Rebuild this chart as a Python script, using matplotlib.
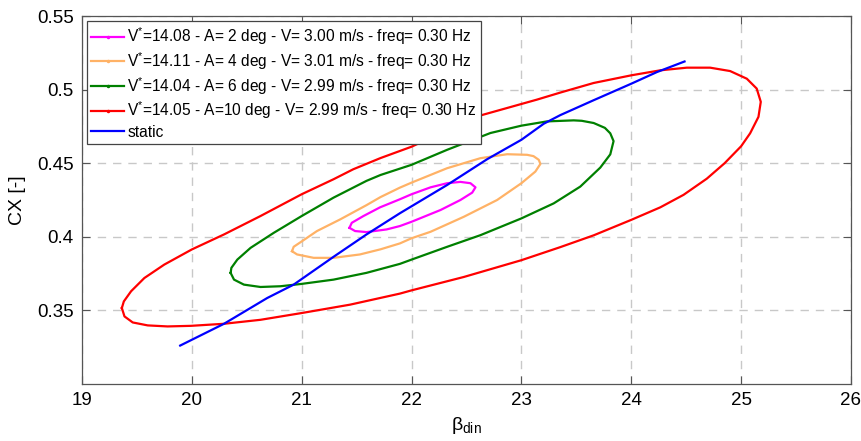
import numpy as np
import matplotlib
matplotlib.use("Agg")
import matplotlib.pyplot as plt
from matplotlib.lines import Line2D

plt.rcParams['font.family'] = ['Liberation Sans', 'DejaVu Sans']
plt.rcParams['mathtext.fontset'] = 'custom'
plt.rcParams['mathtext.rm'] = 'Liberation Sans'
plt.rcParams['mathtext.it'] = 'Liberation Sans:italic'

# ===== Hysteresis loops (beta_din, CX) =====
beta_a2 = [21.435, 21.486, 21.59, 21.773, 21.894, 22.0, 22.264, 22.445, 22.552, 22.582,
           22.536, 22.445, 22.324, 22.173, 22.0, 21.894, 21.713, 21.562, 21.456, 21.435]
cx_a2 = [0.4061, 0.4039, 0.4032, 0.4050, 0.4073, 0.4102, 0.4182, 0.4250, 0.4300, 0.4336,
         0.4364, 0.4373, 0.4364, 0.4336, 0.4289, 0.4255, 0.4200, 0.4141, 0.4095, 0.4061]

beta_a4 = [20.912, 20.958, 21.109, 21.29, 21.53, 21.718, 21.894, 22.0, 22.173, 22.476,
           22.779, 23.0, 23.127, 23.173, 23.158, 23.11, 23.052, 22.87, 22.627, 22.324,
           22.0, 21.894, 21.718, 21.59, 21.35, 21.139, 21.003, 20.927, 20.912]
cx_a4 = [0.3902, 0.3880, 0.3857, 0.3857, 0.3880, 0.3915, 0.3955, 0.3990, 0.4034, 0.4136,
         0.4250, 0.4364, 0.4443, 0.4495, 0.4523, 0.4548, 0.4557, 0.4561, 0.4534, 0.4466,
         0.4368, 0.4334, 0.4270, 0.4215, 0.4118, 0.4039, 0.3970, 0.3932, 0.3902]

beta_a6 = [20.353, 20.384, 20.474, 20.625, 20.807, 21.0, 21.29, 21.59, 21.894, 22.0,
           22.324, 22.627, 23.0, 23.294, 23.536, 23.718, 23.809, 23.839, 23.809, 23.76,
           23.658, 23.55, 23.476, 23.233, 23.0, 22.718, 22.324, 22.0, 21.718, 21.59,
           21.29, 21.0, 20.746, 20.535, 20.414, 20.36, 20.353]
cx_a6 = [0.3755, 0.3709, 0.3675, 0.3659, 0.3664, 0.3680, 0.3709, 0.3755, 0.3816, 0.3845,
         0.3932, 0.4011, 0.4125, 0.4227, 0.4341, 0.4470, 0.4560, 0.4650, 0.4703, 0.4740,
         0.4773, 0.4788, 0.4791, 0.4784, 0.4755, 0.4705, 0.4591, 0.4489, 0.4420, 0.4380,
         0.4266, 0.4141, 0.4027, 0.3925, 0.3845, 0.3789, 0.3755]

beta_a10 = [19.363, 19.387, 19.462, 19.598, 19.779, 19.991, 20.293, 20.625, 21.0, 21.441,
            21.894, 22.0, 22.476, 23.0, 23.355, 23.658, 24.0, 24.264, 24.476, 24.688,
            24.85, 25.0, 25.082, 25.158, 25.179, 25.142, 25.052, 24.9, 24.718, 24.506,
            24.264, 24.0, 23.658, 23.355, 23.142, 22.597, 22.0, 21.718, 21.47, 21.29,
            21.0, 20.625, 20.293, 20.0, 19.749, 19.568, 19.447, 19.381, 19.363]
cx_a10 = [0.3516, 0.3459, 0.3418, 0.3398, 0.3391, 0.3395, 0.3409, 0.3436, 0.3482, 0.3539,
          0.3614, 0.3636, 0.3727, 0.3841, 0.3930, 0.4010, 0.4115, 0.4200, 0.4285, 0.4395,
          0.4500, 0.4615, 0.4703, 0.4815, 0.4917, 0.5007, 0.5074, 0.5126, 0.5149, 0.5149,
          0.5131, 0.5097, 0.5045, 0.4980, 0.4932, 0.4818, 0.4612, 0.4535, 0.4459, 0.4391,
          0.4289, 0.4141, 0.4016, 0.3914, 0.3811, 0.3720, 0.3630, 0.3561, 0.3516]

beta_static = [19.894, 20.293, 20.686, 20.927, 21.29, 21.59, 21.894, 22.324, 22.688, 23.0,
               23.203, 23.355, 23.658, 24.0, 24.233, 24.485]
cx_static = [0.3261, 0.3409, 0.3584, 0.3675, 0.3864, 0.4016, 0.4160, 0.4352, 0.4527, 0.4659,
             0.4768, 0.4827, 0.4928, 0.5040, 0.5119, 0.5191]

labels = [
    r"$\mathregular{V^{*}}$=14.08 - A= 2 deg - V= 3.00 m/s - freq= 0.30 Hz",
    r"$\mathregular{V^{*}}$=14.11 - A= 4 deg - V= 3.01 m/s - freq= 0.30 Hz",
    r"$\mathregular{V^{*}}$=14.04 - A= 6 deg - V= 2.99 m/s - freq= 0.30 Hz",
    r"$\mathregular{V^{*}}$=14.05 - A=10 deg - V= 2.99 m/s - freq= 0.30 Hz",
    "static",
]
colors = ['#ff00ff', '#ffb266', '#008000', '#ff0000', '#0000ff']

fig = plt.figure(figsize=(8.62, 4.41), dpi=100)
ax = fig.add_axes([0.0951, 0.1293, 0.8921, 0.8344])

loops = [(beta_a2, cx_a2), (beta_a4, cx_a4), (beta_a6, cx_a6), (beta_a10, cx_a10)]
for (b, c), col in zip(loops, colors[:4]):
    ax.plot(b, c, color=col, lw=1.6, solid_joinstyle='round')
ax.plot(beta_static, cx_static, color=colors[4], lw=1.6, solid_joinstyle='round')

ax.set_xlim(19, 26)
ax.set_ylim(0.30, 0.55)
ax.set_xticks(np.arange(19, 27, 1))
ax.set_yticks([0.35, 0.4, 0.45, 0.5, 0.55])
ax.set_yticklabels(['0.35', '0.4', '0.45', '0.5', '0.55'])

ax.grid(True, color='#c8c8c8', linestyle=(0, (6, 5)), lw=1.0)
ax.set_axisbelow(True)
for s in ax.spines.values():
    s.set_color('#555555')
    s.set_linewidth(0.9)
ax.tick_params(direction='in', length=5.5, width=0.8, color='#555555',
               labelsize=13.5, top=True, right=True, pad=6)

ax.set_xlabel(r"$\mathregular{\beta_{din}}$", fontsize=14, labelpad=4)
ax.set_ylabel("CX [-]", fontsize=14, labelpad=8)

# legend entries: the dynamic runs carry a dot marker, static does not
handles = [Line2D([], [], color=col, lw=1.6, marker='.', markersize=3) for col in colors[:4]]
handles.append(Line2D([], [], color=colors[4], lw=1.6))
leg = ax.legend(handles, labels, loc='upper left', fontsize=11.2, fancybox=False,
                framealpha=1, edgecolor='#444444', borderaxespad=0.3, handlelength=2.1,
                handletextpad=0.2, labelspacing=0.2, borderpad=0.3, numpoints=1)
leg.get_frame().set_linewidth(0.9)

plt.savefig("out.png", dpi=100)
